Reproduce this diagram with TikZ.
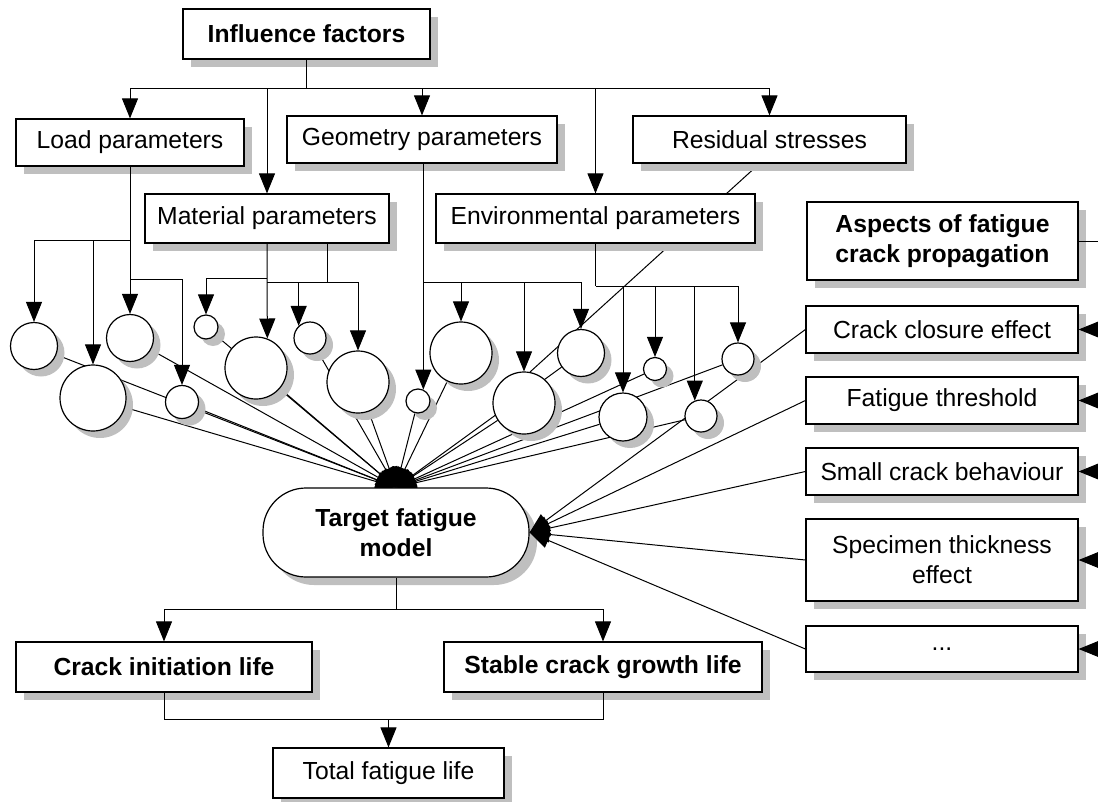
\documentclass[tikz,border=0pt]{standalone}
\usepackage{fontspec}
\setmainfont{Liberation Sans}
\usetikzlibrary{arrows.meta,shadows,calc}
\pgfdeclarelayer{bg}
\pgfsetlayers{bg,main}
\newcommand\myfs{\fontsize{24.7}{30}\selectfont}
\begin{document}
\begin{tikzpicture}[x=1pt,y=-1pt,
  every node/.style={font=\myfs},
  box/.style={draw, fill=white, line width=1.2pt, inner sep=0pt, align=center,
    drop shadow={shadow xshift=8pt,shadow yshift=-8pt,fill=black!25,opacity=1}},
  circ/.style={circle, draw, fill=white, line width=1.2pt, inner sep=0pt,
    drop shadow={shadow xshift=7pt,shadow yshift=-7pt,fill=black!25,opacity=1}},
  conn/.style={line width=1pt},
  arr/.style={conn, -{Triangle[length=20pt,width=16pt]}},
]
\useasboundingbox (0,0) rectangle (1098,801);

% boxes
\node[box, minimum width=247pt, minimum height=50pt, font=\myfs\bfseries] (IF) at (306.5,34) {Influence factors};
\node[box, minimum width=228pt, minimum height=47pt] (Load) at (130,142.5) {Load parameters};
\node[box, minimum width=270pt, minimum height=47pt] (Geo) at (422,139.5) {Geometry parameters};
\node[box, minimum width=273pt, minimum height=47pt] (Res) at (769.5,139.5) {Residual stresses};
\node[box, minimum width=244pt, minimum height=49pt] (Mat) at (267,218.5) {Material parameters};
\node[box, minimum width=319pt, minimum height=49pt] (Env) at (595.5,218.5) {Environmental parameters};
\node[box, minimum width=271pt, minimum height=78pt, font=\myfs\bfseries] (Asp) at (942.5,241) {Aspects of fatigue\\crack propagation};
\node[box, minimum width=272pt, minimum height=47pt] (Clo) at (942,329.5) {Crack closure effect};
\node[box, minimum width=272pt, minimum height=47pt] (Thr) at (942,400.5) {Fatigue threshold};
\node[box, minimum width=272pt, minimum height=47pt] (Sma) at (942,471.5) {Small crack behaviour};
\node[box, minimum width=272pt, minimum height=82pt] (Spe) at (942,560) {Specimen thickness\\effect};
\node[box, minimum width=272pt, minimum height=46pt] (Dots) at (942,649) {...};
\node[box, minimum width=296pt, minimum height=50pt, font=\myfs\bfseries] (CI) at (164,667) {Crack initiation life};
\node[box, minimum width=318pt, minimum height=50pt, font=\myfs\bfseries] (SG) at (603,667) {Stable crack growth life};
\node[box, minimum width=231pt, minimum height=50pt] (Tot) at (388.5,773) {Total fatigue life};
\node[box, rounded corners=43pt, minimum width=266pt, minimum height=89pt, font=\myfs\bfseries] (T) at (396,532.5) {Target fatigue\\model};

% aspects to target
\foreach \n in {Clo,Thr,Sma,Spe,Dots} \draw[arr] (\n.west) -- (T.east);

% circles
\node[circ, minimum size=47pt] (C1) at (34,346) {};
\node[circ, minimum size=66pt] (C2) at (93,398) {};
\node[circ, minimum size=47pt] (C3) at (130,338) {};
\node[circ, minimum size=33pt] (C4) at (182,402) {};
\node[circ, minimum size=24pt] (C5) at (206,327) {};
\node[circ, minimum size=62pt] (C6) at (256,368) {};
\node[circ, minimum size=32pt] (C7) at (310,338) {};
\node[circ, minimum size=62pt] (C8) at (358,382) {};
\node[circ, minimum size=24pt] (C9) at (418,401) {};
\node[circ, minimum size=62pt] (C10) at (461,353) {};
\node[circ, minimum size=62pt] (C11) at (524,403) {};
\node[circ, minimum size=47pt] (C12) at (581,353) {};
\node[circ, minimum size=48pt] (C13) at (623,417) {};
\node[circ, minimum size=23pt] (C14) at (655,369) {};
\node[circ, minimum size=32pt] (C15) at (701,416) {};
\node[circ, minimum size=32pt] (C16) at (738,359) {};

% top bus
\coordinate (ybus) at (0,88);
\draw[conn] (IF.south) -- (IF.south |- ybus);
\draw[conn] (Load.north |- ybus) -- (Res.north |- ybus);
\foreach \n in {Load,Mat,Geo,Env,Res} \draw[arr] (\n.north |- ybus) -- (\n.north);

% load branches
\coordinate (yl1) at (0,240);
\coordinate (yl2) at (0,279);
\draw[arr] (Load.south) -- (C3.north);
\draw[arr] (Load.south |- yl1) -| (C1.north);
\draw[arr] (C2.north |- yl1) -- (C2.north);
\draw[arr] (Load.south |- yl2) -| (C4.north);

% material branches
\coordinate (ym1) at (0,278);
\coordinate (ym2) at (0,282);
\draw[arr] (Mat.south) -- (C6.69);
\draw[arr] (Mat.south |- ym1) -| (C5.north);
\draw[conn] ([xshift=60pt]Mat.south) -- ([xshift=60pt]Mat.south |- ym2);
\draw[arr] (Mat.south |- ym2) -| (C8.north);
\draw[arr] (C7.133 |- ym2) -- (C7.133);

% geometry branches
\coordinate (yg) at (0,282);
\draw[arr] (C9.65 |- Geo.south) -- (C9.65);
\draw[arr] (C9.65 |- yg) -| (C12.north);
\draw[arr] (C10.north |- yg) -- (C10.north);
\draw[arr] (C11.north |- yg) -- (C11.north);

% environment branches
\coordinate (ye) at (0,286);
\draw[conn] (Env.south) -- (Env.south |- ye);
\draw[arr] (Env.south |- ye) -| (C16.north);
\draw[arr] (C13.north |- ye) -- (C13.north);
\draw[arr] (C14.north |- ye) -- (C14.north);
\draw[arr] (C15.112 |- ye) -- (C15.112);

% right side inputs
\draw[conn] (Asp.east) -- ([xshift=22pt]Asp.east);
\foreach \n in {Clo,Thr,Sma,Spe,Dots} \draw[arr] ([xshift=22pt]\n.east) -- (\n.east);

% bottom
\coordinate (yb1) at (0,609);
\coordinate (yb2) at (0,719);
\draw[conn] (T.south) -- (T.south |- yb1);
\draw[conn] (CI.north |- yb1) -- (SG.north |- yb1);
\draw[arr] (CI.north |- yb1) -- (CI.north);
\draw[arr] (SG.north |- yb1) -- (SG.north);
\draw[conn] (CI.south) -- (CI.south |- yb2) -- (SG.south |- yb2) -- (SG.south);
\draw[arr] (Tot.north |- yb2) -- (Tot.north);

% fan lines behind
\begin{pgfonlayer}{bg}
\foreach \n in {1,...,16} \draw[arr] (C\n) -- (T.north);
\draw[conn] ([xshift=-10pt]Res.south) -- (C11.79);
\end{pgfonlayer}
\end{tikzpicture}
\end{document}
